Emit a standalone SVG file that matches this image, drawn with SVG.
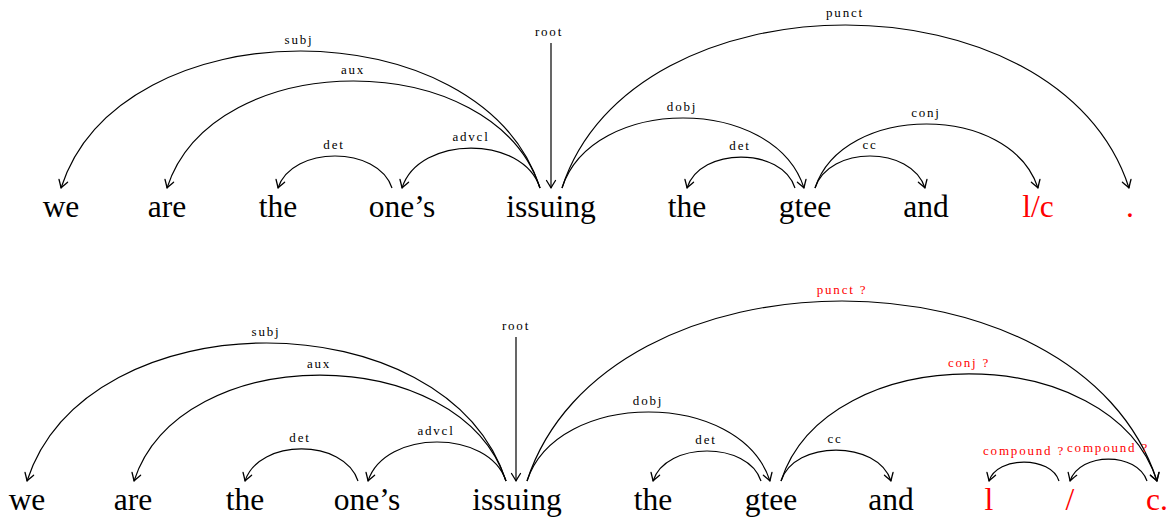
<svg xmlns="http://www.w3.org/2000/svg" width="1174" height="522" viewBox="0 0 1174 522">
<style>
.w{font-family:"Liberation Serif",serif;font-size:31.5px;text-anchor:middle;fill:#000}
.l{font-family:"Liberation Serif",serif;font-size:13px;letter-spacing:1.8px;text-anchor:middle;fill:#000}
.r{fill:#ff0000}
.e{fill:none;stroke:#000;stroke-width:1.2;marker-end:url(#ar)}
</style>
<defs>
<marker id="ar" markerUnits="userSpaceOnUse" orient="auto" refX="0" refY="0" markerWidth="12" markerHeight="12" overflow="visible">
<path d="M-7.5,-4.5 Q-2,-1 0,0 Q-2,1 -7.5,4.5" fill="none" stroke="#000" stroke-width="1.3" stroke-linecap="round" stroke-linejoin="round"/>
</marker>
</defs>
<rect width="1174" height="522" fill="#fff"/>
<g id="connectors">
<path class="e" d="M540,188 C481,5.3 120,5.3 61,188"/>
<path class="e" d="M540,188 C494,45.3 213,45.3 167,188"/>
<path class="e" d="M392,188 C378,145.3 292,145.3 278,188"/>
<path class="e" d="M540,188 C523,134.7 419,134.7 402,188"/>
<path class="e" d="M551,43 L551,188"/>
<path class="e" d="M562,188 C632,-29.3 1059,-29.3 1129,188"/>
<path class="e" d="M562,188 C592,94.7 774,94.7 804,188"/>
<path class="e" d="M795,188 C782,146.7 700,146.7 687,188"/>
<path class="e" d="M815,188 C843,102.7 1010,102.7 1038,188"/>
<path class="e" d="M815,188 C829,145.3 911,145.3 925,188"/>
<path class="e" d="M506,481 C446,297 87,297 27,481"/>
<path class="e" d="M506,481 C460,339.7 180,339.7 134,481"/>
<path class="e" d="M358,481 C344,438.3 259,438.3 245,481"/>
<path class="e" d="M506,481 C489,429 385,429 368,481"/>
<path class="e" d="M516,337 L516,481"/>
<path class="e" d="M527,481 C605,241 1079,241 1157,481"/>
<path class="e" d="M527,481 C557,389 740,389 770,481"/>
<path class="e" d="M761,481 C748,441 666,441 653,481"/>
<path class="e" d="M781,481 C827,338.3 1111,338.3 1157,481"/>
<path class="e" d="M781,481 C794,439.7 878,439.7 891,481"/>
<path class="e" d="M1059,481 C1051,455.7 997,455.7 989,481"/>
<path class="e" d="M1147,481 C1137,451.7 1080,451.7 1070,481"/>
</g>
<g id="labels-top">
<text class="l" x="299" y="44">subj</text>
<text class="l" x="353" y="74">aux</text>
<text class="l" x="334" y="149">det</text>
<text class="l" x="471" y="141">advcl</text>
<text class="l" x="549" y="36">root</text>
<text class="l" x="845" y="17">punct</text>
<text class="l" x="682" y="111">dobj</text>
<text class="l" x="740" y="150">det</text>
<text class="l" x="926" y="117">conj</text>
<text class="l" x="870" y="149">cc</text>
</g>
<g id="labels-bottom">
<text class="l" x="266" y="336">subj</text>
<text class="l" x="319" y="368">aux</text>
<text class="l" x="300" y="442">det</text>
<text class="l" x="436" y="435">advcl</text>
<text class="l" x="516" y="330">root</text>
<text class="l r" x="842" y="294">punct ?</text>
<text class="l" x="648" y="405">dobj</text>
<text class="l" x="706" y="444">det</text>
<text class="l r" x="969" y="367">conj ?</text>
<text class="l" x="835" y="443">cc</text>
<text class="l r" x="1024" y="455">compound ?</text>
<text class="l r" x="1108" y="452">compound ?</text>
</g>
<g id="w1-we"><text class="w" x="61" y="217">we</text></g>
<g id="w1-are"><text class="w" x="167" y="217">are</text></g>
<g id="w1-the"><text class="w" x="278" y="217">the</text></g>
<g id="w1-ones"><text class="w" x="402" y="217">one’s</text></g>
<g id="w1-issuing"><text class="w" x="551" y="217">issuing</text></g>
<g id="w1-the2"><text class="w" x="687" y="217">the</text></g>
<g id="w1-gtee"><text class="w" x="805" y="217">gtee</text></g>
<g id="w1-and"><text class="w" x="926" y="217">and</text></g>
<g id="w1-lc"><text class="w r" x="1038" y="217">l/c</text></g>
<g id="w1-dot"><text class="w r" x="1130" y="217">.</text></g>
<g id="w2-we"><text class="w" x="27" y="510">we</text></g>
<g id="w2-are"><text class="w" x="133" y="510">are</text></g>
<g id="w2-the"><text class="w" x="245" y="510">the</text></g>
<g id="w2-ones"><text class="w" x="367" y="510">one’s</text></g>
<g id="w2-issuing"><text class="w" x="517" y="510">issuing</text></g>
<g id="w2-the2"><text class="w" x="653" y="510">the</text></g>
<g id="w2-gtee"><text class="w" x="771" y="510">gtee</text></g>
<g id="w2-and"><text class="w" x="891" y="510">and</text></g>
<g id="w2-l"><text class="w r" x="989" y="510">l</text></g>
<g id="w2-slash"><text class="w r" x="1070" y="510">/</text></g>
<g id="w2-c"><text class="w r" x="1157" y="510">c.</text></g>
</svg>
